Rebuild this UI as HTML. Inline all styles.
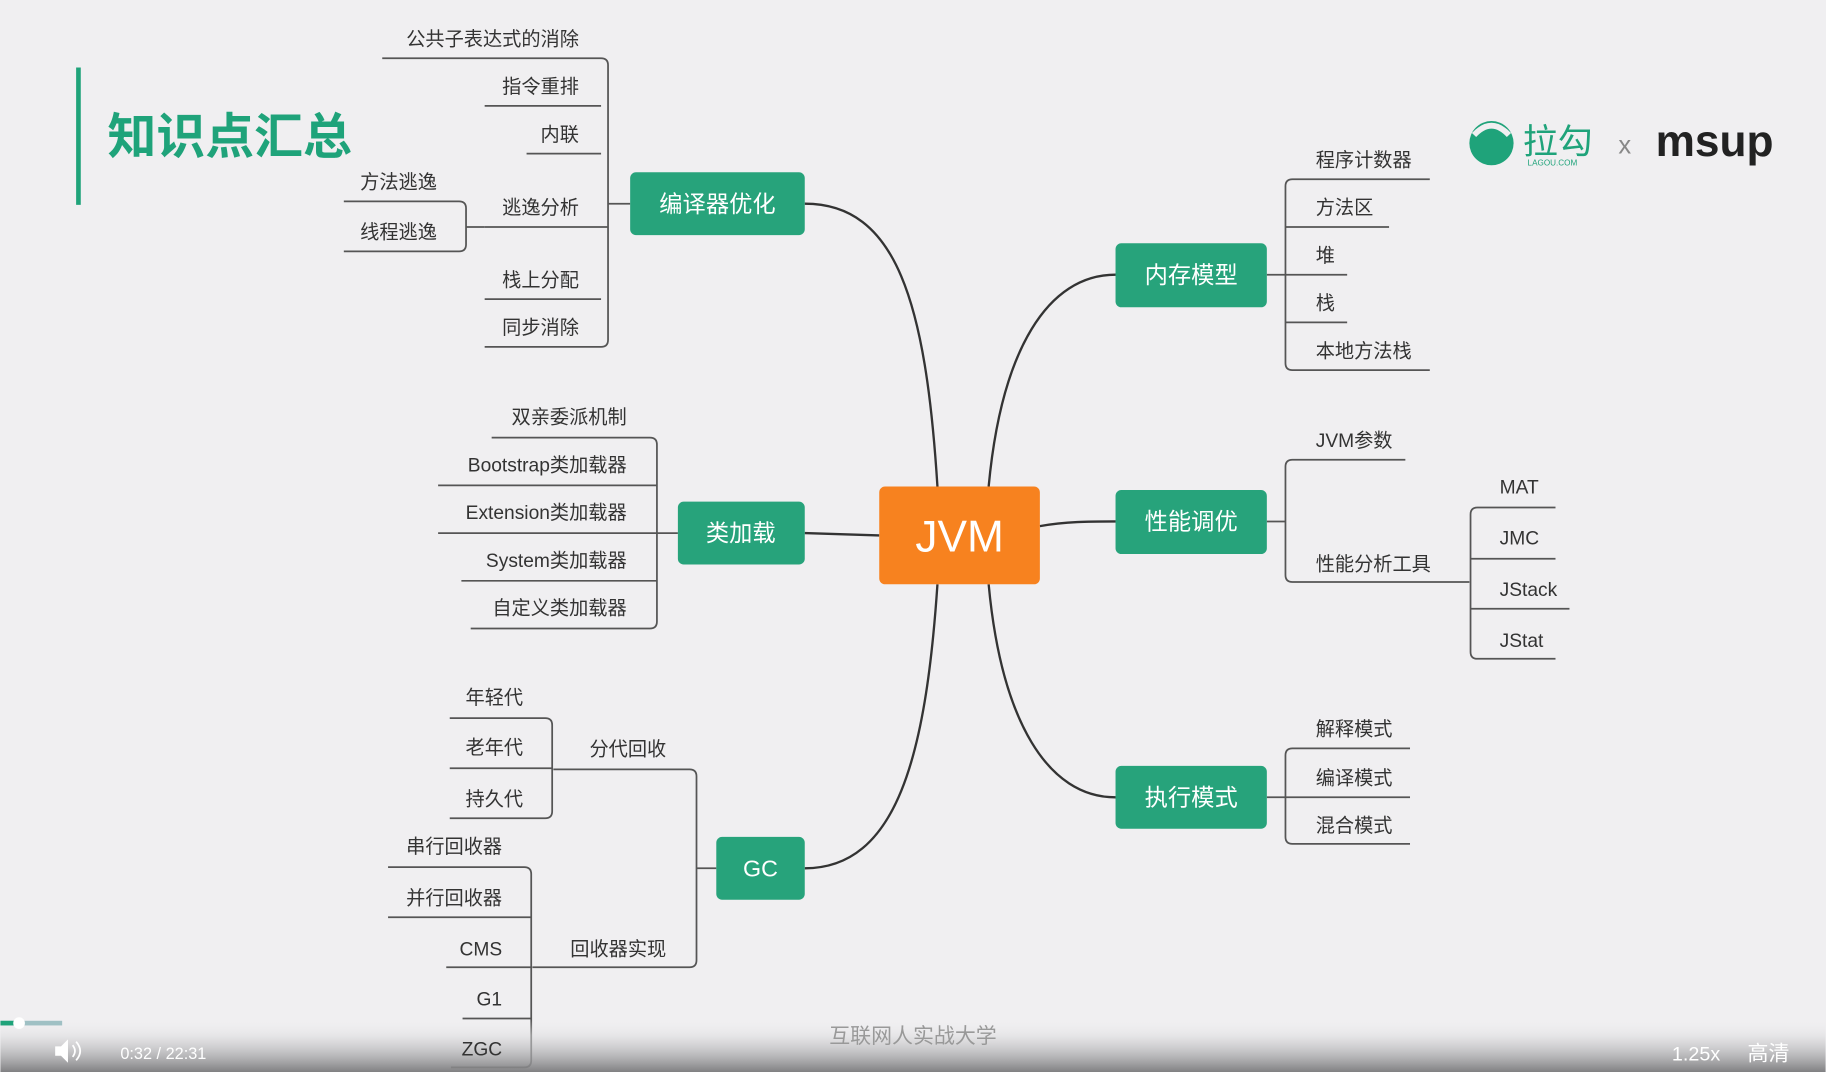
<!DOCTYPE html>
<html><head><meta charset="utf-8"><style>
html,body{margin:0;padding:0;background:#f0eff1;}
svg{display:block}
text{font-family:"Liberation Sans","Noto Sans CJK SC",sans-serif;}
</style></head><body>
<svg width="1826" height="1072" viewBox="0 0 1568 921" xmlns="http://www.w3.org/2000/svg">
<defs><linearGradient id="bar" x1="0" y1="0" x2="0" y2="1"><stop offset="0" stop-color="#f0eff1" stop-opacity="0"/><stop offset="0.3" stop-color="#dcdcde" stop-opacity="0.5"/><stop offset="1" stop-color="#7a7a7c" stop-opacity="0.95"/></linearGradient></defs>
<rect width="1568" height="921" fill="#f0eff1"/>
<rect x="65" y="58" width="4" height="118" fill="#1fa37a"/>
<text x="92" y="132" font-size="42" fill="#1fa37a" font-weight="bold">知识点汇总</text>
<circle cx="1281" cy="123" r="19" fill="#1fa37a"/>
<path d="M1266,116 Q1281,100 1296,116" stroke="#f0eff1" stroke-width="5" fill="none"/>
<text x="1308" y="132" font-size="30" fill="#1fa37a">拉勾</text>
<text x="1312" y="142" font-size="7" fill="#1fa37a">LAGOU.COM</text>
<text x="1390" y="132" font-size="22" fill="#888">x</text>
<text x="1422" y="134" font-size="38" font-weight="bold" fill="#222">msup</text>
<g stroke="#555" stroke-width="1.5" fill="none">
<path d="M328,50H516Q522,50 522,56V292Q522,298 516,298H416"/>
<path d="M416,91H516M452,132H516M416,195H522M416,257H516M522,175H541"/>
<path d="M295,173H394Q400,173 400,179V210Q400,216 394,216H295M400,195H416"/>
<path d="M422,376H558Q564,376 564,382V534Q564,540 558,540H404"/>
<path d="M376,417H564M376,458H582M396,499H564"/>
<path d="M475,661H592Q598,661 598,667V825Q598,831 592,831H457M598,746H615"/>
<path d="M386,617H468Q474,617 474,623V697Q474,703 468,703H386M386,660H474"/>
<path d="M333,745H450Q456,745 456,751V911Q456,917 450,917H387M333,788H456M383,831H456M397,875H456"/>
<path d="M1228,154H1110Q1104,154 1104,160V312Q1104,318 1110,318H1228M1193,195H1104M1157,236H1088M1157,277H1104"/>
<path d="M1207,395H1110Q1104,395 1104,401V494Q1104,500 1110,500H1262M1104,448H1088"/>
<path d="M1336,436H1269Q1263,436 1263,442V560Q1263,566 1269,566H1336M1336,480H1263M1348,523H1263"/>
<path d="M1211,643H1110Q1104,643 1104,649V719Q1104,725 1110,725H1211M1211,685H1088"/>
<path stroke="#333" stroke-width="2" d="M805,418C795,260 770,175 691,175"/>
<path stroke="#333" stroke-width="2" d="M849,418C860,300 900,236 958,236"/>
<path stroke="#333" stroke-width="2" d="M805,502C795,650 770,746 691,746"/>
<path stroke="#333" stroke-width="2" d="M849,502C860,620 900,685 958,685"/>
<path stroke="#333" stroke-width="2" d="M691,458L755,460M893,452C915,448 935,448 958,448"/>
</g>
<g fill="#27a37b">
<rect x="541" y="148" width="150" height="54" rx="5"/>
<rect x="582" y="431" width="109" height="54" rx="5"/>
<rect x="615" y="719" width="76" height="54" rx="5"/>
<rect x="958" y="209" width="130" height="55" rx="5"/>
<rect x="958" y="421" width="130" height="55" rx="5"/>
<rect x="958" y="658" width="130" height="54" rx="5"/>
</g>
<rect x="755" y="418" width="138" height="84" rx="5" fill="#f7821f"/>
<g fill="#fff" font-size="20" text-anchor="middle">
<text x="616" y="182">编译器优化</text>
<text x="636" y="465">类加载</text>
<text x="653" y="753">GC</text>
<text x="1023" y="243">内存模型</text>
<text x="1023" y="455">性能调优</text>
<text x="1023" y="692">执行模式</text>
<text x="824" y="474" font-size="38">JVM</text>
</g>
<rect x="0" y="876" width="1568" height="45" fill="url(#bar)"/>
<g fill="#333" font-size="16.5" text-anchor="end">
<text x="497" y="39">公共子表达式的消除</text>
<text x="497" y="80">指令重排</text>
<text x="497" y="121">内联</text>
<text x="497" y="184">逃逸分析</text>
<text x="375" y="162">方法逃逸</text>
<text x="375" y="205">线程逃逸</text>
<text x="497" y="246">栈上分配</text>
<text x="497" y="287">同步消除</text>
<text x="538" y="364">双亲委派机制</text>
<text x="538" y="405">Bootstrap类加载器</text>
<text x="538" y="446">Extension类加载器</text>
<text x="538" y="487">System类加载器</text>
<text x="538" y="528">自定义类加载器</text>
<text x="572" y="649">分代回收</text>
<text x="572" y="821">回收器实现</text>
<text x="449" y="605">年轻代</text>
<text x="449" y="648">老年代</text>
<text x="449" y="692">持久代</text>
<text x="431" y="733">串行回收器</text>
<text x="431" y="777">并行回收器</text>
<text x="431" y="821">CMS</text>
<text x="431" y="864">G1</text>
<text x="431" y="907">ZGC</text>
</g>
<g fill="#333" font-size="16.5">
<text x="1130" y="143">程序计数器</text>
<text x="1130" y="184">方法区</text>
<text x="1130" y="225">堆</text>
<text x="1130" y="266">栈</text>
<text x="1130" y="307">本地方法栈</text>
<text x="1130" y="384">JVM参数</text>
<text x="1130" y="490">性能分析工具</text>
<text x="1288" y="424">MAT</text>
<text x="1288" y="468">JMC</text>
<text x="1288" y="512">JStack</text>
<text x="1288" y="556">JStat</text>
<text x="1130" y="632">解释模式</text>
<text x="1130" y="674">编译模式</text>
<text x="1130" y="715">混合模式</text>
</g>
<rect x="0" y="877" width="53" height="4" fill="#9fc0c4"/>
<rect x="0" y="877" width="12" height="4" fill="#1fa37a"/>
<circle cx="16" cy="879" r="5" fill="#fff"/>
<text x="784" y="896" font-size="18" fill="#999" text-anchor="middle">互联网人实战大学</text>
<path d="M47,899h5l6,-6v20l-6,-6h-5z" fill="#fff"/>
<path d="M62,898q4,5 0,10M65,895q7,8 0,16" stroke="#fff" stroke-width="1.5" fill="none"/>
<text x="103" y="910" font-size="14" fill="#fff">0:32 / 22:31</text>
<text x="1436" y="911" font-size="17" fill="#fff">1.25x</text>
<text x="1501" y="911" font-size="18" fill="#fff">高清</text>
</svg>
</body></html>
